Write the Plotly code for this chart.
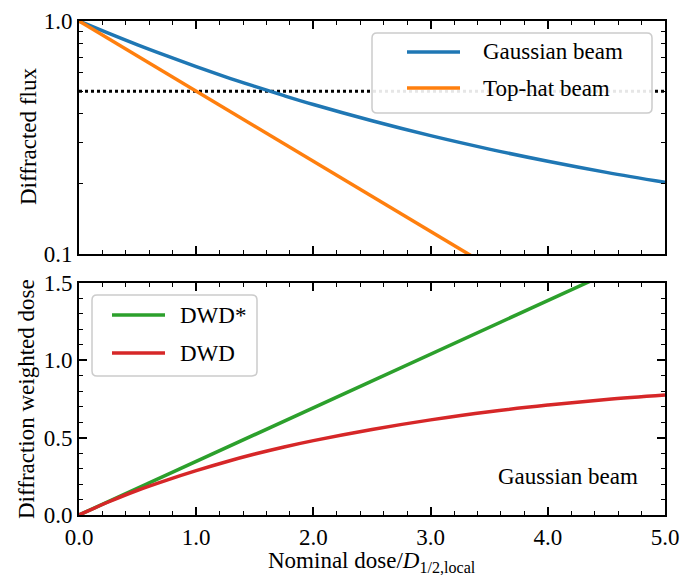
import plotly.graph_objects as go
from plotly.subplots import make_subplots

# ---- data ----
dose = [0, 0.25, 0.5, 0.75, 1.0, 1.25, 1.5, 1.75, 2.0, 2.5, 3.0, 3.5, 4.0, 4.5, 5.0]
gaussian_flux = [1.0, 0.887, 0.790, 0.708, 0.637, 0.576, 0.524, 0.478, 0.438,
                 0.373, 0.322, 0.282, 0.250, 0.224, 0.203]
tophat_dose = [0, 1, 2, 3, 4, 5]
tophat_flux = [1.0, 0.5, 0.25, 0.125, 0.0625, 0.03125]
half_level_x = [0, 5]
half_level_y = [0.5, 0.5]
dwd_star_x = [0, 5]
dwd_star_y = [0, 1.733]
dwd = [0, 0.084, 0.160, 0.226, 0.287, 0.343, 0.394, 0.440, 0.481,
       0.553, 0.615, 0.668, 0.711, 0.747, 0.776]
x_ticks = [0, 1, 2, 3, 4, 5]
top_y_ticks = [0.1, 1.0]
top_y_minor = [0.2, 0.3, 0.4, 0.5, 0.6, 0.7, 0.8, 0.9]
bot_y_ticks = [0, 0.5, 1.0, 1.5]
top_legend_names = ["Gaussian beam", "Top-hat beam"]
bot_legend_names = ["DWD*", "DWD"]

FONT = "Liberation Serif, Times New Roman, Times, serif"
BLUE, ORANGE, GREEN, RED = "#1f77b4", "#ff7f0e", "#2ca02c", "#d62728"
W, H = 680, 575
ML, MR, MT, MB = 79, 15, 21, 60
PW, PH = W - ML - MR, H - MT - MB


def px(x):
    return (x - ML) / PW


def py(y):
    return (H - MB - y) / PH


fig = make_subplots(rows=2, cols=1, shared_xaxes=False, vertical_spacing=0.058)

fig.add_trace(go.Scatter(x=half_level_x, y=half_level_y, mode="lines",
                         line=dict(color="black", width=3, dash="dot"),
                         showlegend=False, hoverinfo="skip"), row=1, col=1)
fig.add_trace(go.Scatter(x=dose, y=gaussian_flux, mode="lines", name=top_legend_names[0],
                         line=dict(color=BLUE, width=3.5, shape="spline"),
                         showlegend=False), row=1, col=1)
fig.add_trace(go.Scatter(x=tophat_dose, y=tophat_flux, mode="lines", name=top_legend_names[1],
                         line=dict(color=ORANGE, width=3.5), showlegend=False), row=1, col=1)

fig.add_trace(go.Scatter(x=dwd_star_x, y=dwd_star_y, mode="lines", name=bot_legend_names[0],
                         line=dict(color=GREEN, width=3.5), showlegend=False), row=2, col=1)
fig.add_trace(go.Scatter(x=dose, y=dwd, mode="lines", name=bot_legend_names[1],
                         line=dict(color=RED, width=3.5, shape="spline"),
                         showlegend=False), row=2, col=1)

TF = dict(family=FONT, size=23, color="black")
LF = dict(family=FONT, size=23, color="black")
axis_common = dict(showline=True, linecolor="black", linewidth=2, mirror="ticks",
                   ticks="inside", ticklen=8, tickwidth=1.6, tickcolor="black",
                   showgrid=False, zeroline=False, tickfont=TF, automargin=False)
minor_common = dict(ticks="inside", ticklen=4, tickwidth=1.3, tickcolor="black")

fig.update_xaxes(range=[0, 5], tickvals=x_ticks, tickformat=".1f",
                 minor=dict(dtick=0.2, tick0=0, **minor_common), **axis_common)
fig.update_xaxes(showticklabels=False, row=1, col=1)

fig.update_yaxes(type="log", range=[-1, 0], tickvals=top_y_ticks, ticktext=["0.1", "1.0"],
                 minor=dict(tickvals=top_y_minor, **minor_common),
                 row=1, col=1, **axis_common)
fig.update_yaxes(range=[0, 1.5], tickvals=bot_y_ticks, tickformat=".1f",
                 minor=dict(dtick=0.1, tick0=0, **minor_common),
                 row=2, col=1, **axis_common)

# axis titles
fig.add_annotation(text="Nominal dose/<i>D</i><sub>1/2,local</sub>", xref="paper", yref="paper",
                   x=0.5, y=py(562), xanchor="center", yanchor="middle",
                   showarrow=False, font=TF)
fig.add_annotation(text="Diffracted flux", xref="paper", yref="paper",
                   x=px(28), y=py(137), xanchor="center", yanchor="middle",
                   textangle=-90, showarrow=False, font=TF)
fig.add_annotation(text="Diffraction weighted dose", xref="paper", yref="paper",
                   x=px(26), y=py(399), xanchor="center", yanchor="middle",
                   textangle=-90, showarrow=False, font=TF)

fig.add_annotation(text="Gaussian beam", x=4.79, y=0.25, xref="x2", yref="y2",
                   xanchor="right", yanchor="middle", showarrow=False, font=LF)


def rounded_box(x0, y0, x1, y1, r=5):
    X0, X1 = px(x0), px(x1)
    Y0, Y1 = py(y0), py(y1)  # Y0 top, Y1 bottom in paper
    rx, ry = r / PW, r / PH
    return (f"M {X0+rx},{Y0} L {X1-rx},{Y0} Q {X1},{Y0} {X1},{Y0-ry} "
            f"L {X1},{Y1+ry} Q {X1},{Y1} {X1-rx},{Y1} L {X0+rx},{Y1} "
            f"Q {X0},{Y1} {X0},{Y1+ry} L {X0},{Y0-ry} Q {X0},{Y0} {X0+rx},{Y0} Z")


def legend(box, line_x, rows, names, colors, text_x):
    fig.add_shape(type="path", path=rounded_box(*box), xref="paper", yref="paper",
                  line=dict(color="#cccccc", width=1.5), fillcolor="rgba(255,255,255,0.9)",
                  layer="above")
    for yy, name, col in zip(rows, names, colors):
        fig.add_shape(type="line", xref="paper", yref="paper",
                      x0=px(line_x[0]), x1=px(line_x[1]), y0=py(yy), y1=py(yy),
                      line=dict(color=col, width=3.5), layer="above")
        fig.add_annotation(text=name, xref="paper", yref="paper", x=px(text_x), y=py(yy),
                           xanchor="left", yanchor="middle", showarrow=False, font=LF)


legend((372, 33, 652, 113), (407, 460), (52, 88), top_legend_names, [BLUE, ORANGE], 481)
legend((92, 295, 257, 376), (112, 165), (315, 353), bot_legend_names, [GREEN, RED], 178)

fig.update_layout(
    width=W, height=H,
    margin=dict(l=ML, r=MR, t=MT, b=MB, autoexpand=False),
    paper_bgcolor="white", plot_bgcolor="white",
    font=dict(family=FONT, color="black"),
    showlegend=False,
)
fig.update_layout(yaxis=dict(domain=[py(254), 1.0]), yaxis2=dict(domain=[0.0, py(283)]))

fig.write_html("out.html")
